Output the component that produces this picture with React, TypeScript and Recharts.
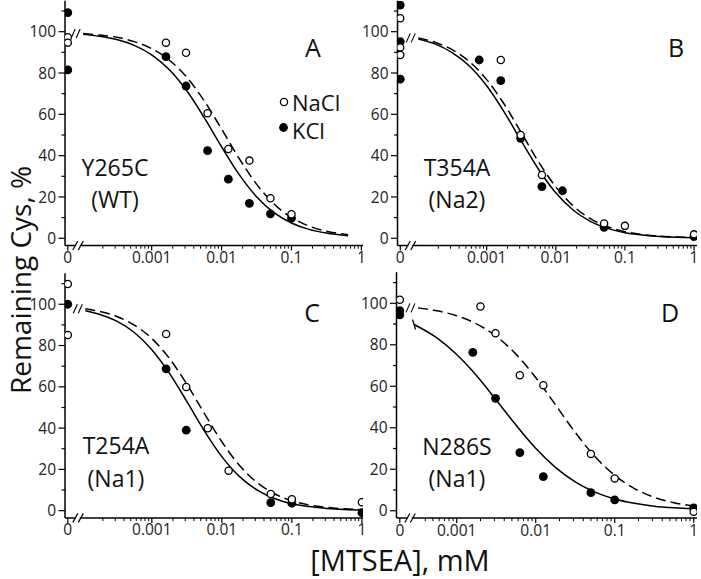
import React from 'react';
import { ComposedChart, Line, Scatter, XAxis, YAxis } from 'recharts';

const FONT = '"Open Sans", "Noto Sans", "DejaVu Sans", sans-serif';

// ---------- Panel A : Y265C (WT) ----------
const aNaClConc = [0, 0, 0.0016, 0.0031, 0.0063, 0.0125, 0.025, 0.05, 0.1];
const aNaClVal = [97.3, 94.7, 94.7, 89.8, 60.5, 43.2, 37.6, 19.4, 11.6];
const aKClConc = [0, 0, 0.0016, 0.0031, 0.0063, 0.0125, 0.025, 0.05, 0.1];
const aKClVal = [109.2, 81.5, 87.9, 73.7, 42.4, 28.6, 16.9, 11.8, 9.7];
const aCurveLog = [-3.98, -3.75, -3.5, -3.25, -3, -2.75, -2.5, -2.25, -2, -1.75, -1.5, -1.25, -1, -0.75, -0.5, -0.19];
const aKClFit = [98.7, 97.8, 96.2, 93.4, 88.8, 81.7, 71.5, 58.5, 44.3, 30.9, 20.1, 12.4, 7.4, 4.3, 2.5, 1.2];
const aNaClFit = [99.1, 98.4, 97.3, 95.2, 91.8, 86.3, 78.0, 66.6, 52.9, 38.7, 26.2, 16.6, 10.1, 5.9, 3.4, 1.7];

// ---------- Panel B : T354A (Na2) ----------
const bNaClConc = [0, 0, 0, 0.0016, 0.0031, 0.0063, 0.05, 0.1, 1];
const bNaClVal = [106.5, 92.4, 88.7, 86.3, 50.0, 30.6, 7.2, 6.0, 1.9];
const bKClConc = [0, 0, 0, 0.00078, 0.0016, 0.0031, 0.0063, 0.0125, 0.05, 1];
const bKClVal = [112.9, 95.2, 77.0, 86.3, 76.3, 48.4, 25.0, 23.0, 5.3, 0.8];
const bCurveLog = [-3.99, -3.75, -3.5, -3.25, -3, -2.75, -2.5, -2.25, -2, -1.75, -1.5, -1.25, -1, -0.75, -0.5, -0.25, 0];
const bKClFit = [96.5, 94.1, 89.9, 83.4, 73.8, 61.3, 47.1, 33.4, 22.0, 13.7, 8.2, 4.8, 2.7, 1.6, 0.9, 0.5, 0.3];
const bNaClFit = [97.0, 94.9, 91.3, 85.5, 76.8, 65.1, 51.2, 37.0, 24.9, 15.7, 9.5, 5.6, 3.2, 1.8, 1.0, 0.6, 0.3];

// ---------- Panel C : T254A (Na1) ----------
const cNaClConc = [0, 0, 0.0016, 0.0031, 0.0063, 0.0125, 0.05, 0.1, 1];
const cNaClVal = [109.8, 85.1, 85.6, 59.9, 39.9, 19.4, 8.1, 5.5, 4.1];
const cKClConc = [0, 0.0016, 0.0031, 0.05, 0.1, 1];
const cKClVal = [100, 68.7, 39.0, 3.9, 3.6, -1.0];
const cCurveLog = [-3.95, -3.75, -3.5, -3.25, -3, -2.75, -2.5, -2.25, -2, -1.75, -1.5, -1.25, -1, -0.75, -0.5, -0.25, 0];
const cKClFit = [96.9, 95.2, 91.8, 86.3, 78.0, 66.6, 52.9, 38.7, 26.2, 16.6, 10.1, 5.9, 3.4, 2.0, 1.1, 0.6, 0.35];
const cNaClFit = [97.8, 96.6, 94.1, 89.9, 83.4, 73.8, 61.3, 47.1, 33.4, 22.0, 13.7, 8.2, 4.8, 2.7, 1.6, 0.9, 0.5];

// ---------- Panel D : N286S (Na1) ----------
const dNaClConc = [0, 0.002, 0.0031, 0.0063, 0.0125, 0.05, 0.1, 1];
const dNaClVal = [101.7, 98.5, 85.6, 65.3, 60.5, 27.4, 15.6, -0.5];
const dKClConc = [0, 0, 0.0016, 0.0031, 0.0063, 0.0125, 0.05, 0.1, 1];
const dKClVal = [96.5, 94.4, 76.3, 54.2, 28.0, 16.4, 8.7, 5.2, 1.4];
const dKClCurveLog = [-3.54, -3.25, -3, -2.75, -2.5, -2.25, -2, -1.75, -1.5, -1.25, -1, -0.75, -0.5, -0.25, 0];
const dKClFit = [89.8, 83.3, 75.3, 65.2, 53.4, 41.3, 30.1, 20.9, 13.9, 9.0, 5.7, 3.6, 2.2, 1.4, 0.9];
const dNaClCurveLog = [-3.49, -3.25, -3, -2.75, -2.5, -2.25, -2, -1.75, -1.5, -1.25, -1, -0.75, -0.5, -0.25, 0];
const dNaClFit = [97.8, 96.4, 94.0, 90.1, 84.1, 75.5, 64.2, 51.1, 37.8, 26.1, 17.1, 10.7, 6.5, 3.9, 2.3];

// ---------- Axis ticks / labels ----------
const yTicks = [0, 10, 20, 30, 40, 50, 60, 70, 80, 90, 100, 110];
const yMajorTicks = [0, 20, 40, 60, 80, 100];
const yMajorLabels = ['0', '20', '40', '60', '80', '100'];
const xMajorConc = [0.001, 0.01, 0.1, 1];
const xMajorLabels = ['0.001', '0.01', '0.1', '1'];
const xZeroLabel = '0';
const xMinorDecades = [0.0001, 0.001, 0.01, 0.1];
const xMinorMult = [2, 3, 4, 5, 6, 7, 8, 9];

const panelLetters = ['A', 'B', 'C', 'D'];
const panelNames = [['Y265C', '(WT)'], ['T354A', '(Na2)'], ['T254A', '(Na1)'], ['N286S', '(Na1)']];
const legendNames = ['NaCl', 'KCl'];
const yTitle = 'Remaining Cys, %';
const xTitle = '[MTSEA], mM';

const toLog = (c: number, zero: number) => (c === 0 ? zero : Math.log10(c));
const pts = (conc: number[], val: number[], zero: number) =>
  conc.map((c, i) => ({ x: toLog(c, zero), y: val[i] }));
const curve = (lx: number[], val: number[]) => lx.map((x, i) => ({ x, y: val[i] }));

type Geo = { box: { x: number; y: number; w: number; h: number }; plot: { l: number; t: number; r: number; b: number } };

const panels = [
  {
    geo: { box: { x: 0, y: 0, w: 370, h: 270 }, plot: { l: 65, t: 0.7, r: 363, b: 245.5 } },
    xDomain: [-4.24, 0.023], zero: -4.2, breakLog: -3.98,
    naCl: pts(aNaClConc, aNaClVal, -4.2), kCl: pts(aKClConc, aKClVal, -4.2),
    naFit: curve(aCurveLog, aNaClFit), kFit: curve(aCurveLog, aKClFit), kCap: false,
  },
  {
    geo: { box: { x: 350, y: 0, w: 351, h: 270 }, plot: { l: 397.5, t: 0.7, r: 697, b: 245.5 } },
    xDomain: [-4.29, 0.043], zero: -4.25, breakLog: -3.99,
    naCl: pts(bNaClConc, bNaClVal, -4.25), kCl: pts(bKClConc, bKClVal, -4.25),
    naFit: curve(bCurveLog, bNaClFit), kFit: curve(bCurveLog, bKClFit), kCap: false,
  },
  {
    geo: { box: { x: 0, y: 270, w: 370, h: 300 }, plot: { l: 65, t: 273.3, r: 363, b: 517.9 } },
    xDomain: [-4.24, 0.016], zero: -4.2, breakLog: -3.95,
    naCl: pts(cNaClConc, cNaClVal, -4.2), kCl: pts(cKClConc, cKClVal, -4.2),
    naFit: curve(cCurveLog, cNaClFit), kFit: curve(cCurveLog, cKClFit), kCap: false,
  },
  {
    geo: { box: { x: 350, y: 270, w: 351, h: 300 }, plot: { l: 396.5, t: 272.2, r: 697, b: 518 } },
    xDomain: [-3.762, 0.042], zero: -3.72, breakLog: -3.49,
    naCl: pts(dNaClConc, dNaClVal, -3.72), kCl: pts(dKClConc, dKClVal, -3.72),
    naFit: curve(dNaClCurveLog, dNaClFit), kFit: curve(dKClCurveLog, dKClFit), kCap: true,
  },
];

const YW = 40;
const XH = 24;
const TICK_FS = 15.5;

const OpenDot = (p: any) => (
  <circle cx={p.cx} cy={p.cy} r={3.6} fill="#fff" stroke="#000" strokeWidth={1.3} />
);
const FilledDot = (p: any) => <circle cx={p.cx} cy={p.cy} r={4.4} fill="#000" stroke="none" />;

const YTick = (p: any) => {
  const { x, y, payload } = p;
  const v = payload.value;
  const mi = yMajorTicks.indexOf(v);
  const major = mi >= 0;
  return (
    <g>
      <line x1={x - (major ? 6.5 : 3.5)} y1={y} x2={x} y2={y} stroke="#000" strokeWidth={1.2} />
      {major && (
        <text x={x - 9} y={y} dy="0.36em" textAnchor="end" fontSize={TICK_FS} fontFamily={FONT} fill="#222">
          {yMajorLabels[mi]}
        </text>
      )}
    </g>
  );
};

const makeXTick = (zero: number) => (p: any) => {
  const { x, y, payload } = p;
  const v = payload.value;
  if (Math.abs(v - zero) < 1e-9) {
    return (
      <g>
        <line x1={x} y1={y} x2={x} y2={y + 5} stroke="#000" strokeWidth={1.2} />
        <text x={x} y={y + 17.5} textAnchor="middle" fontSize={TICK_FS} fontFamily={FONT} fill="#222">
          {xZeroLabel}
        </text>
        <rect x={x + 8} y={y - 3} width={4} height={6} fill="#fff" />
        <line x1={x + 5} y1={y + 4.5} x2={x + 10} y2={y - 4.5} stroke="#000" strokeWidth={1.2} />
        <line x1={x + 10.5} y1={y + 4.5} x2={x + 15.5} y2={y - 4.5} stroke="#000" strokeWidth={1.2} />
      </g>
    );
  }
  const mi = xMajorConc.findIndex((m) => Math.abs(Math.log10(m) - v) < 1e-9);
  if (mi >= 0) {
    return (
      <g>
        <line x1={x} y1={y} x2={x} y2={y + 5} stroke="#000" strokeWidth={1.2} />
        <text x={x} y={y + 17.5} textAnchor="middle" fontSize={TICK_FS} fontFamily={FONT} fill="#222">
          {xMajorLabels[mi]}
        </text>
      </g>
    );
  }
  return <line x1={x} y1={y} x2={x} y2={y + 3.2} stroke="#000" strokeWidth={1} />;
};

const breakStart = (p: any) => {
  if (p.index !== 0) return <g key={`n${p.index}`} />;
  const { cx, cy } = p;
  return (
    <g key="brk">
      <line x1={cx - 12} y1={cy + 4.5} x2={cx - 8} y2={cy - 4.5} stroke="#000" strokeWidth={1.1} />
      <line x1={cx - 7} y1={cy + 4.5} x2={cx - 3} y2={cy - 4.5} stroke="#000" strokeWidth={1.1} />
    </g>
  );
};
const capStart = (p: any) => {
  if (p.index !== 0) return <g key={`n${p.index}`} />;
  const { cx, cy } = p;
  return (
    <g key="cap">
      <line x1={cx - 1.5} y1={cy - 5} x2={cx + 1.5} y2={cy + 5} stroke="#000" strokeWidth={1.2} />
    </g>
  );
};
const noDot = (p: any) => <g key={`n${p.index}`} />;

function Panel({ cfg }: { cfg: any }) {
  const g: Geo = cfg.geo;
  const { box, plot } = g;
  const margin = {
    top: plot.t - box.y,
    left: plot.l - box.x - YW,
    right: box.x + box.w - plot.r,
    bottom: box.y + box.h - plot.b - XH,
  };
  const xTicks: number[] = [cfg.zero];
  xMinorDecades.forEach((d) =>
    xMinorMult.forEach((m) => {
      const lv = Math.log10(d * m);
      if (lv > cfg.breakLog + 0.05 && lv < cfg.xDomain[1]) xTicks.push(lv);
    })
  );
  xMajorConc.forEach((c) => xTicks.push(Math.log10(c)));
  xTicks.sort((a, b) => a - b);
  return (
    <div style={{ position: 'absolute', left: box.x, top: box.y }}>
      <ComposedChart width={box.w} height={box.h} margin={margin}>
        <XAxis
          type="number"
          dataKey="x"
          domain={cfg.xDomain}
          allowDataOverflow
          ticks={xTicks}
          interval={0}
          height={XH}
          tickSize={0}
          tickMargin={0}
          tickLine={false}
          axisLine={{ stroke: '#000', strokeWidth: 1.5 }}
          tick={makeXTick(cfg.zero)}
        />
        <YAxis
          type="number"
          dataKey="y"
          domain={[-3.5, 115]}
          allowDataOverflow
          ticks={yTicks}
          interval={0}
          width={YW}
          tickSize={0}
          tickMargin={0}
          tickLine={false}
          axisLine={{ stroke: '#000', strokeWidth: 1.5 }}
          tick={YTick}
        />
        <Line
          data={cfg.kFit}
          dataKey="y"
          type="monotone"
          stroke="#000"
          strokeWidth={1.5}
          dot={cfg.kCap ? capStart : noDot}
          activeDot={false}
          isAnimationActive={false}
        />
        <Line
          data={cfg.naFit}
          dataKey="y"
          type="monotone"
          stroke="#000"
          strokeWidth={1.5}
          strokeDasharray="10 5"
          dot={breakStart}
          activeDot={false}
          isAnimationActive={false}
        />
        <Scatter data={cfg.kCl} dataKey="y" shape={FilledDot} isAnimationActive={false} />
        <Scatter data={cfg.naCl} dataKey="y" shape={OpenDot} isAnimationActive={false} />
      </ComposedChart>
    </div>
  );
}

const letterPos = [[313, 57], [676, 57], [312, 322], [670, 322]];
const namePos = [[115, 176, 208], [457, 176, 208], [116, 454, 487], [457, 455, 487]];

export default function App() {
  return (
    <div style={{ position: 'absolute', left: 0, top: 0, width: 701, height: 579, background: '#fff', overflow: 'hidden' }}>
      {panels.map((p, i) => (
        <Panel key={i} cfg={p} />
      ))}
      <svg width={701} height={579} style={{ position: 'absolute', left: 0, top: 0, pointerEvents: 'none' }}>
        {panelLetters.map((l, i) => (
          <text key={l} x={letterPos[i][0]} y={letterPos[i][1]} textAnchor="middle" fontSize={25} fontFamily={FONT} fill="#111">
            {l}
          </text>
        ))}
        {panelNames.map((n, i) => (
          <g key={i}>
            <text x={namePos[i][0]} y={namePos[i][1]} textAnchor="middle" fontSize={23} fontFamily={FONT} fill="#111">
              {n[0]}
            </text>
            <text x={namePos[i][0]} y={namePos[i][2]} textAnchor="middle" fontSize={23} fontFamily={FONT} fill="#111">
              {n[1]}
            </text>
          </g>
        ))}
        <circle cx={284} cy={102} r={3.6} fill="#fff" stroke="#000" strokeWidth={1.3} />
        <text x={292} y={111} fontSize={22} fontFamily={FONT} fill="#111">{legendNames[0]}</text>
        <circle cx={283.5} cy={127.5} r={4.4} fill="#000" />
        <text x={292} y={138.5} fontSize={22} fontFamily={FONT} fill="#111">{legendNames[1]}</text>
        <text x={30.5} y={280} transform="rotate(-90 30.5 280)" textAnchor="middle" fontSize={28} fontFamily={FONT} fill="#111">
          {yTitle}
        </text>
        <text x={400} y={571} textAnchor="middle" fontSize={29} fontFamily={FONT} fill="#111">
          {xTitle}
        </text>
      </svg>
    </div>
  );
}
